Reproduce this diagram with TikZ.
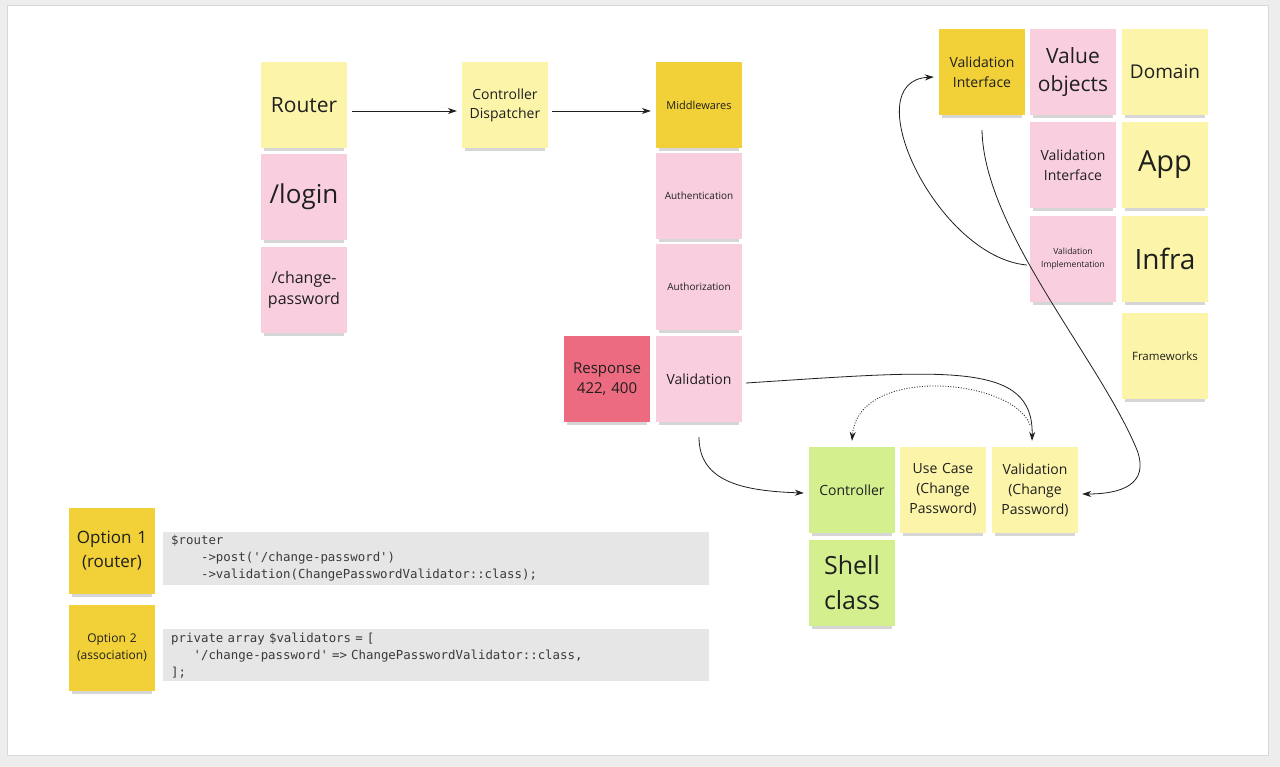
\documentclass[tikz,border=0pt]{standalone}
\usepackage{fontspec}
\setmainfont{Open Sans}
\setmonofont{DejaVu Sans Mono}
\usetikzlibrary{arrows.meta,shadows}
\definecolor{stickyyellow}{HTML}{FCF5A9}
\definecolor{stickygold}{HTML}{F2D037}
\definecolor{stickypink}{HTML}{F9CFE0}
\definecolor{stickyred}{HTML}{EC6B80}
\definecolor{stickygreen}{HTML}{D4F08E}
\definecolor{codegrey}{HTML}{E6E6E6}
\definecolor{codetext}{HTML}{3A3A3A}
\definecolor{inkdark}{HTML}{1F1F1F}
\definecolor{canvasgrey}{HTML}{EDEDED}
\definecolor{framegrey}{HTML}{D8D8D8}

\begin{document}
\begin{tikzpicture}[x=1pt, y=-1pt,
  note/.style={rectangle, minimum width=86pt, minimum height=86pt, inner sep=2pt, text width=82pt, align=center, text=inkdark,
    general shadow={fill=black, opacity=0.16, shadow scale=0.94, shadow yshift=-6pt}},
  fs/.style 2 args={font=\fontsize{#1}{#2}\selectfont},
  codebox/.style={rectangle, fill=codegrey, minimum width=546pt, minimum height=50pt, text width=530pt, inner xsep=8pt,
    align=left, anchor=north west, text=codetext, font=\ttfamily\fontsize{12.4}{17}\selectfont},
  link/.style={-{Stealth[length=9pt,width=6pt]}, line width=0.8pt, draw=inkdark}
]
\useasboundingbox (0,0) rectangle (1280,767);
\fill[canvasgrey] (0,0) rectangle (1280,767);
\filldraw[fill=white, draw=framegrey] (7,5) rectangle (1268,755);

\node[note, fill=stickyyellow, fs={21}{28}] (router) at (304,105) {Router};
\node[note, fill=stickypink, fs={26}{34}] (login) at (304,197) {/login};
\node[note, fill=stickypink, fs={16}{21}] (changepw) at (304,290) {/change-\\password};

\node[note, fill=stickyyellow, fs={14}{19}] (dispatcher) at (505,105) {Controller\\Dispatcher};

\node[note, fill=stickygold, fs={11}{14}] (middlewares) at (699,105) {Middlewares};
\node[note, fill=stickypink, fs={10}{13}] (authn) at (699,196) {Authentication};
\node[note, fill=stickypink, fs={10}{13}] (authz) at (699,287) {Authorization};
\node[note, fill=stickypink, fs={14}{19}] (validation) at (699,379) {Validation};
\node[note, fill=stickyred, fs={15}{20}] (response) at (607,379) {Response\\422, 400};

\node[note, fill=stickygold, fs={14}{20}] (valiface) at (982,72) {Validation\\Interface};
\node[note, fill=stickypink, fs={21}{28}] (valobj) at (1073,72) {Value\\objects};
\node[note, fill=stickyyellow, fs={19}{25}] (domain) at (1165,72) {Domain};
\node[note, fill=stickypink, fs={14}{20}] (valiface2) at (1073,165) {Validation\\Interface};
\node[note, fill=stickyyellow, fs={29}{38}] (app) at (1165,165) {App};
\node[note, fill=stickypink, fs={8.5}{13}] (valimpl) at (1073,259) {Validation\\Implementation};
\node[note, fill=stickyyellow, fs={28}{36}] (infra) at (1165,259) {Infra};
\node[note, fill=stickyyellow, fs={11.5}{15}] (frameworks) at (1165,356) {Frameworks};

\node[note, fill=stickygreen, fs={14}{19}] (controller) at (852,490) {Controller};
\node[note, fill=stickyyellow, fs={14}{20}] (usecase) at (943,490) {Use Case\\(Change\\Password)};
\node[note, fill=stickyyellow, fs={14}{20}] (valcp) at (1035,490) {Validation\\(Change\\Password)};
\node[note, fill=stickygreen, fs={25}{35}] (shell) at (852,583) {Shell\\class};

\node[note, fill=stickygold, fs={17}{24}] (option1) at (112,551) {Option 1\\(router)};
\node[note, fill=stickygold, fs={12}{17}] (option2) at (112,648) {Option 2\\(association)};

\node[codebox] (code1) at (163,532) {\$router\\\phantom{0000}->post('/change-password')\\\phantom{0000}->validation(ChangePasswordValidator::class);};
\node[codebox] (code2) at (163,629) {private array \$validators = [\\\phantom{000}'/change-password' => ChangePasswordValidator::class,\\];};

\coordinate (bend) at (1137,450);

\draw[link, shorten <=5pt, shorten >=5pt] ([yshift=-6pt]router.east) -- ([yshift=-6pt]dispatcher.west);
\draw[link, shorten <=4pt, shorten >=5pt] ([yshift=-6pt]dispatcher.east) -- ([yshift=-6pt]middlewares.west);
\draw[link] ([xshift=4pt,yshift=-4pt]validation.east) .. controls +(200,-13) and +(2,-80) .. ([xshift=-3pt,yshift=6pt]valcp.north);
\draw[link, dash pattern=on 1pt off 1.6pt] ([xshift=-5pt,yshift=22pt]valcp.north) .. controls +(-18,-47) and +(6,-76) .. ([yshift=6pt]controller.north);
\draw[link] ([yshift=-15pt]validation.south) .. controls +(0,45) and +(-60,-2) .. ([xshift=-5pt,yshift=-3pt]controller.west);
\draw[link] ([xshift=-3pt,yshift=-6pt]valimpl.west) .. controls +(-90,-8) and +(-80,4) .. ([xshift=-5pt,yshift=-5pt]valiface.west);
\draw[link] ([yshift=-15pt]valiface.south) .. controls +(2,100) and +(-37,-90) .. (bend) .. controls +(13,35) and +(38,0) .. ([xshift=4pt,yshift=-4pt]valcp.east);

\end{tikzpicture}
\end{document}
